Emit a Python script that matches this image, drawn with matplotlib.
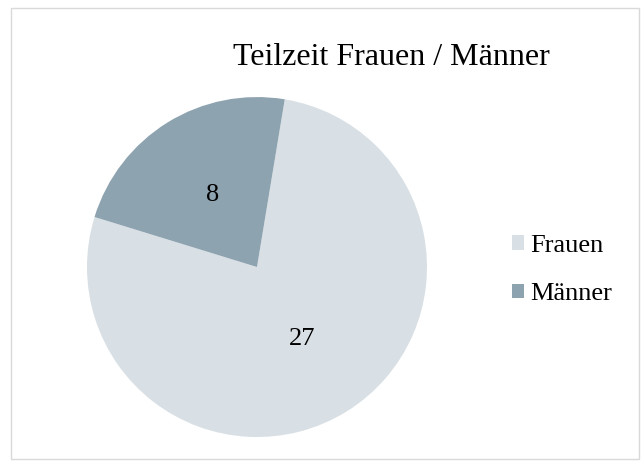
import matplotlib.pyplot as plt
from matplotlib.patches import Rectangle

labels = ['Frauen', 'Männer']
values = [27, 8]
colors = ['#d9e0e5', '#8ea3b0']

plt.rcParams['font.family'] = ['Liberation Serif', 'DejaVu Serif']

fig = plt.figure(figsize=(6.42, 4.61), dpi=100)
ax = fig.add_axes([0.1355, 0.052, 0.5296, 0.7375])

wedges, texts, autotexts = ax.pie(
    values, colors=colors, startangle=80.6, counterclock=False,
    autopct=lambda p: '%d' % round(p * sum(values) / 100),
    pctdistance=0.5, wedgeprops=dict(linewidth=0),
    textprops=dict(fontsize=19))
ax.set_aspect('auto')
ax.set_xlim(-1, 1)
ax.set_ylim(-1, 1)

fig.text(0.609, 0.876, 'Teilzeit Frauen / Männer', ha='center', va='center', fontsize=23)

leg = fig.legend(wedges, labels, loc='center left', bbox_to_anchor=(0.797, 0.414),
                 frameon=False, fontsize=19, handlelength=0.46, handleheight=0.46,
                 handletextpad=0.25, labelspacing=1.0, borderpad=0, borderaxespad=0)

fig.patches.append(Rectangle((0.017, 0.005), 0.978, 0.978, transform=fig.transFigure,
                             fill=False, edgecolor='#d9d9d9', linewidth=1))

fig.savefig('out.png', dpi=100)
